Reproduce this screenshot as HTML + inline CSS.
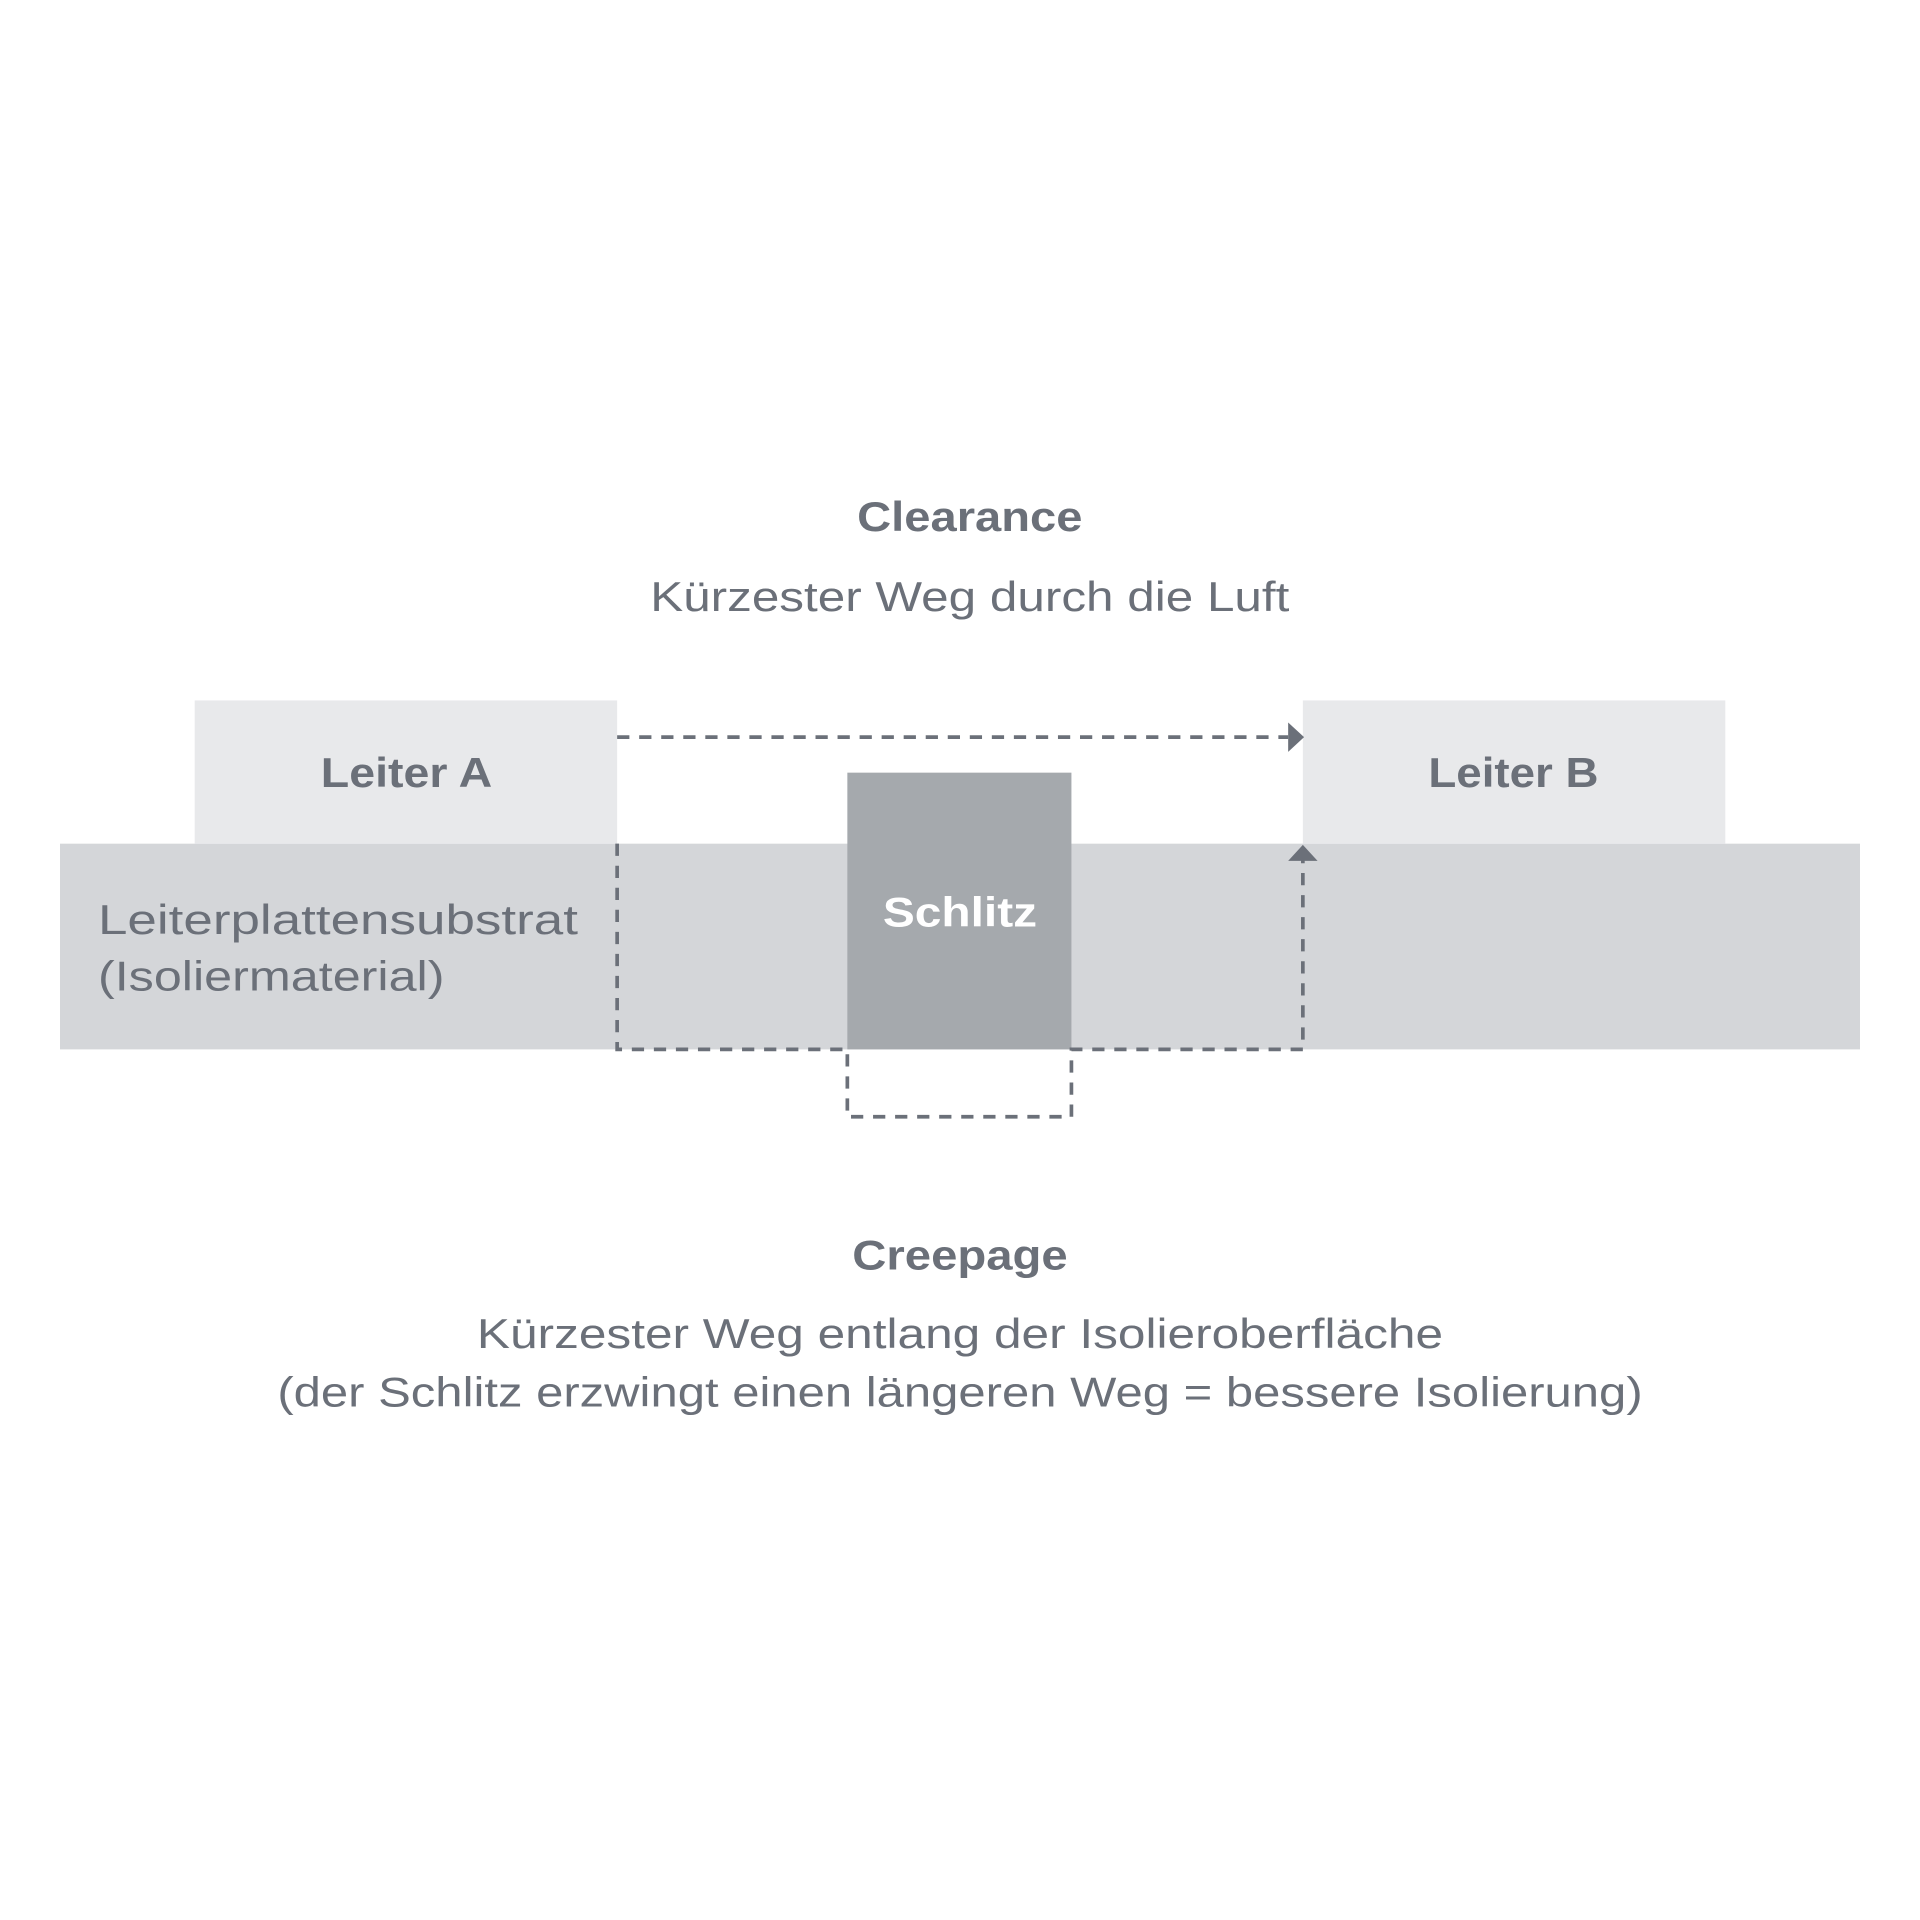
<!DOCTYPE html>
<html><head><meta charset="utf-8"><style>
html,body{margin:0;padding:0;background:#fff;}
svg{display:block;}
text{font-family:"Liberation Sans",sans-serif;fill:#6b7079;}
</style></head><body>
<svg width="1920" height="1920" viewBox="0 0 1568 1568" xmlns="http://www.w3.org/2000/svg">
<rect width="1568" height="1568" fill="#ffffff"/>
<text x="792" y="422" font-size="34" font-weight="bold" text-anchor="middle" dominant-baseline="central" textLength="184" lengthAdjust="spacingAndGlyphs">Clearance</text>
<text x="792" y="487" font-size="34" text-anchor="middle" dominant-baseline="central" textLength="522" lengthAdjust="spacingAndGlyphs">Kürzester Weg durch die Luft</text>
<rect x="49" y="689" width="1470" height="168" fill="#d4d6d9"/>
<rect x="159" y="572" width="345" height="117" fill="#e8e9eb"/>
<rect x="1064" y="572" width="345" height="117" fill="#e8e9eb"/>
<rect x="692" y="631" width="183" height="226" fill="#a5a9ad"/>
<text x="332" y="631" font-size="34" font-weight="bold" text-anchor="middle" dominant-baseline="central" textLength="140" lengthAdjust="spacingAndGlyphs">Leiter A</text>
<text x="1236" y="631" font-size="34" font-weight="bold" text-anchor="middle" dominant-baseline="central" textLength="139" lengthAdjust="spacingAndGlyphs">Leiter B</text>
<text x="784" y="745" font-size="34" font-weight="bold" text-anchor="middle" dominant-baseline="central" style="fill:#ffffff" textLength="126" lengthAdjust="spacingAndGlyphs">Schlitz</text>
<text x="80" y="751" font-size="34" dominant-baseline="central" textLength="392" lengthAdjust="spacingAndGlyphs">Leiterplattensubstrat</text>
<text x="80" y="797" font-size="34" dominant-baseline="central" textLength="283" lengthAdjust="spacingAndGlyphs">(Isoliermaterial)</text>
<g fill="none" stroke="#6b7079" stroke-width="3" stroke-dasharray="10 8">
<path d="M504 602 H1052"/>
<path d="M504 689 V857 H692 V912 H875 V857 H1064 V702"/>
</g>
<polygon points="1052,590 1065,602 1052,614" fill="#6b7079"/>
<polygon points="1052,703 1064,690 1076,703" fill="#6b7079"/>
<text x="784" y="1025" font-size="34" font-weight="bold" text-anchor="middle" dominant-baseline="central" textLength="176" lengthAdjust="spacingAndGlyphs">Creepage</text>
<text x="784" y="1089" font-size="34" text-anchor="middle" dominant-baseline="central" textLength="789" lengthAdjust="spacingAndGlyphs">Kürzester Weg entlang der Isolieroberfläche</text>
<text x="784" y="1137" font-size="34" text-anchor="middle" dominant-baseline="central" textLength="1115" lengthAdjust="spacingAndGlyphs">(der Schlitz erzwingt einen längeren Weg = bessere Isolierung)</text>
</svg>
</body></html>
